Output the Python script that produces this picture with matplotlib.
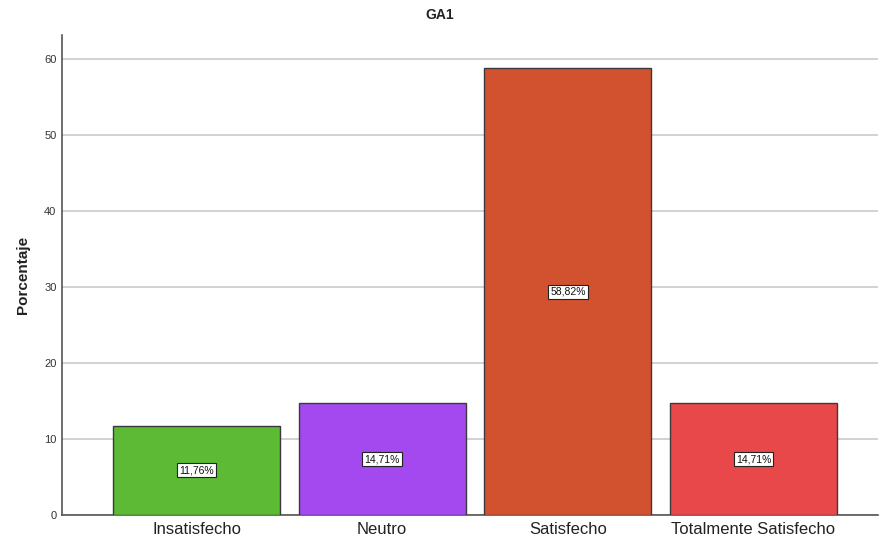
import matplotlib
matplotlib.use("Agg")
import matplotlib.pyplot as plt

categories = ["Insatisfecho", "Neutro", "Satisfecho", "Totalmente Satisfecho"]
values = [11.76, 14.71, 58.82, 14.71]
value_labels = ["11,76%", "14,71%", "58,82%", "14,71%"]
colors = ["#5cba35", "#a448ef", "#d2522f", "#e9484b"]
yticks = [0, 10, 20, 30, 40, 50, 60]

plt.rcParams["font.family"] = ["Liberation Sans", "DejaVu Sans"]

fig = plt.figure(figsize=(8.8, 5.46), dpi=100)
ax = fig.add_axes([0.0705, 0.0568, 0.927, 0.879])

x = list(range(len(categories)))
ax.bar(x, values, width=0.9, color=colors, edgecolor="#3a3a3a", linewidth=1.0, zorder=3)

for xi, v, lab in zip(x, values, value_labels):
    ax.text(xi, v / 2, lab, ha="center", va="center", fontsize=7.5, color="#111111", zorder=4,
            bbox=dict(boxstyle="square,pad=0.2", facecolor="white", edgecolor="#222222", linewidth=0.8))

ax.set_xlim(-0.725, 3.67)
ax.set_ylim(0, 63.2)
ax.set_yticks(yticks)
ax.set_xticks(x)
ax.set_xticklabels(categories, fontsize=12, color="#222222")
ax.tick_params(axis="y", length=0, labelsize=8, labelcolor="#333333", pad=4)
ax.tick_params(axis="x", length=0, pad=5)

ax.grid(axis="y", color="#c9c9c9", linewidth=1.2, zorder=0)
ax.set_axisbelow(True)
for s in ["top", "right"]:
    ax.spines[s].set_visible(False)
ax.spines["left"].set_color("#555555")
ax.spines["bottom"].set_color("#555555")
ax.spines["left"].set_linewidth(1.2)
ax.spines["bottom"].set_linewidth(1.2)

ax.set_ylabel("Porcentaje", fontsize=11, fontweight="bold", color="#222222", labelpad=10)
fig.text(0.5, 0.972, "GA1", ha="center", va="center", fontsize=10, fontweight="bold", color="#222222")

fig.savefig("out.png", dpi=100)
